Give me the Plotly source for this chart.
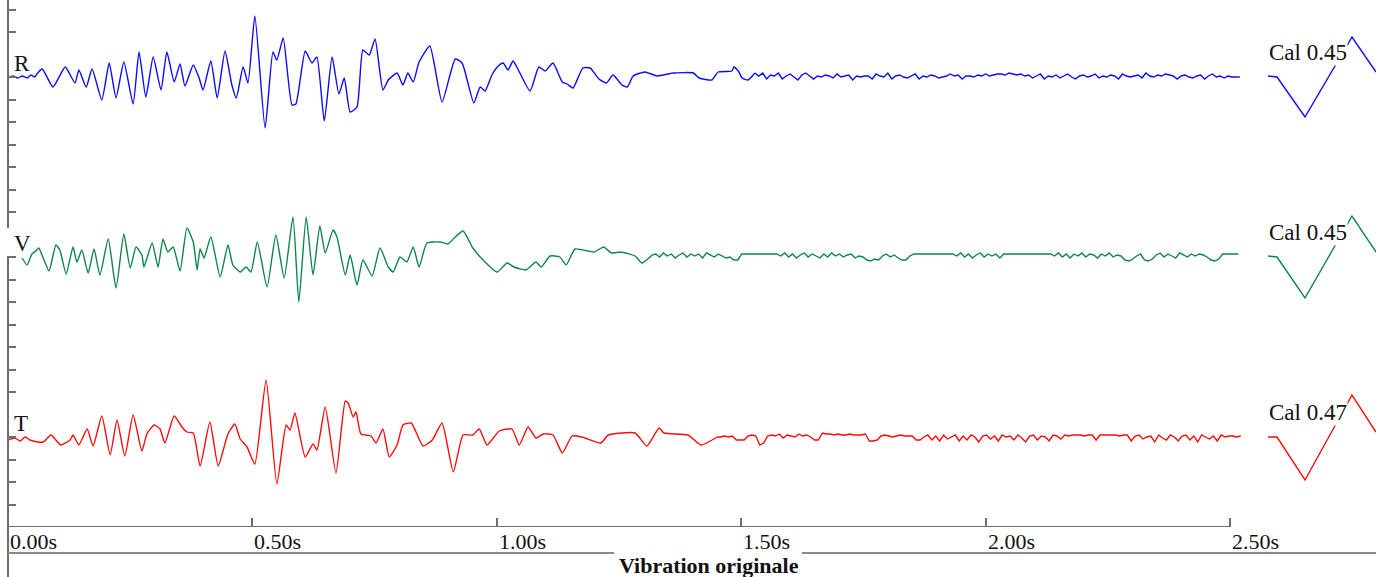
import numpy as np
import plotly.graph_objects as go

# ------------------------------------------------------------------ data
channels = ["R", "V", "T"]
cal_values = [0.45, 0.45, 0.47]
tick_seconds = [0.0, 0.5, 1.0, 1.5, 2.0, 2.5]
chart_title = "Vibration originale"

# R channel: times (s) and amplitudes (counts) of the waveform turning points
r_time = [0.000, 0.010, 0.020, 0.029, 0.039, 0.047, 0.055, 0.059,
          0.070, 0.092, 0.117, 0.137, 0.145, 0.160, 0.172, 0.192, 0.207, 0.221,
          0.237, 0.256, 0.268, 0.282, 0.297, 0.313, 0.325, 0.340, 0.352, 0.362,
          0.379, 0.391, 0.399, 0.415, 0.428, 0.444, 0.458, 0.467, 0.481, 0.491,
          0.505, 0.526, 0.542, 0.550, 0.563, 0.581, 0.589, 0.608, 0.622, 0.632,
          0.647, 0.663, 0.677, 0.688, 0.700, 0.714, 0.726, 0.739, 0.751, 0.767,
          0.778, 0.796, 0.808, 0.818, 0.829, 0.841, 0.863, 0.888, 0.915, 0.929,
          0.953, 0.966, 0.976, 0.990, 1.003, 1.013, 1.023, 1.033, 1.041, 1.068,
          1.086, 1.099, 1.115, 1.134, 1.144, 1.156, 1.176, 1.191, 1.209, 1.224,
          1.238, 1.256, 1.267, 1.279, 1.303, 1.328, 1.361, 1.402, 1.414, 1.440,
          1.453, 1.481, 1.485, 1.494, 1.502, 1.514, 1.528]
r_amp = [-1, 1, -1, 1, -1, 2, 0, 3,
         8, -10, 10, -6, 7, -10, 8, -23, 14, -21,
         15, -27, 25, -20, 20, -13, 25, -5, 13, -9,
         12, -1, -13, 16, -21, 26, -8, -21, 10, -6,
         61, -51, 25, 17, 39, -28, -27, 26, 14, 20,
         -44, 20, -17, -1, -35, -30, 27, 22, 38, -13,
         -3, 4, -8, 4, -5, 15, 31, -25, 18, 14,
         -26, -10, -14, 2, 11, 14, 7, 16, 10, -14,
         10, 6, 14, -5, -7, -11, 9, 9, -2, -6,
         2, -8, -10, 1, 5, 1, 4, 4, -1, -3,
         5, 6, 10, 6, -1, -3, 4]
r_tail_start = 1.536
r_tail = [1, 4, -2, 2, 1, 4, -2, 1, 3, 0, -3, 2, 4, 1, -2, 1, 0, 2, 1, -1,
          3, 0, 1, 2, -3, 1, 0, 1, 1, -2, 3, 1, 0, 4, -2, 1, 2, 0, -1, 1,
          3, -2, 1, 0, 2, 1, -1, 0, 1, 3, 1, 2, -2, 1, 1, 0, 2, 1, 3, 1,
          2, 3, 3, 2, 4, 3, 2, 3, 1, 2, -1, 1, 3, -2, 1, 0, 2, -1, 1, 3,
          0, -2, 1, 2, 0, 1, 3, -1, 1, 0, 2, 1, -2, 3, 1, 0, 1, 2, -1, 4,
          1, 0, 2, 1, 3, 2, 1, -2, 1, 2, 0, -1, 1, 2, -2, 1, 3, 0, 1, -1,
          1, 0, 0, 0]

# V channel
v_time = [0.029, 0.039, 0.049, 0.057, 0.063, 0.072, 0.084, 0.098, 0.106, 0.119,
          0.133, 0.141, 0.151, 0.164, 0.176, 0.188, 0.205, 0.221, 0.237, 0.250,
          0.262, 0.274, 0.278, 0.295, 0.307, 0.317, 0.327, 0.338, 0.352, 0.366,
          0.379, 0.387, 0.393, 0.401, 0.415, 0.434, 0.450, 0.460, 0.475, 0.487,
          0.497, 0.510, 0.530, 0.548, 0.565, 0.583, 0.595, 0.610, 0.624, 0.638,
          0.649, 0.665, 0.673, 0.690, 0.700, 0.714, 0.726, 0.745, 0.761, 0.778,
          0.788, 0.802, 0.816, 0.829, 0.841, 0.857, 0.884, 0.900, 0.913, 0.931,
          0.951, 0.972, 1.001, 1.021, 1.035, 1.060, 1.080, 1.091, 1.109, 1.129,
          1.142, 1.160, 1.199, 1.219, 1.234, 1.254, 1.283, 1.297, 1.318]
v_amp = [-1, -8, 3, 6, 9, -1, -14, 12, 7, -17,
         10, -5, 7, -16, 8, -18, 18, -31, 23, -11,
         10, 2, -10, 14, -10, 18, 5, 10, -14, 29,
         15, -13, 8, -1, 20, -20, 12, -8, -15, -10,
         -15, 15, -30, 22, -21, 40, -45, 40, -18, 31,
         4, 27, 20, -18, 2, -28, -3, -19, 9, -10,
         -15, 0, -5, 10, -10, 14, 15, 13, 19, 26,
         9, -3, -15, -6, -10, -13, -5, -10, 1, 0,
         -8, 8, 5, 10, 4, 5, 1, -6, 2]
v_tail_start = 1.325
v_tail = [3, 0, 4, 1, 3, -1, 2, 4, 0, 3, 1, 3, -1, 4, 2, 0, 3, 1, -1, 0,
          -3, -3, 3, 3, 3, 3, 3, 3, 3, 3, 3, 3, 1, 4, 0, 3, -1, 2, 4, 0,
          3, 1, -1, 3, 0, 4, 1, 3, 0, 2, 3, -1, 1, 0, -3, -4, -2, -3, 1, 3,
          0, 2, -1, -3, -3, 1, 3, 3, 3, 3, 3, 3, 3, 3, 3, 3, 3, 1, 4, 0,
          3, -1, 2, 4, 0, 3, 1, 3, -1, 3, 3, 3, 3, 3, 3, 3, 3, 3, 3, 3,
          3, 3, 1, 4, 0, 3, -1, 3, 1, 4, 0, 3, 2, -1, 3, 1, 4, 0, 2, 1,
          -3, -4, -2, 1, 3, -3, -4, -2, 2, 4, 0, 3, 1, -1, 4, 2, 0, 3, 1, 3,
          2, 0, -3, -4, -2, 3, 3, 3, 3, 3]

# T channel
t_time = [0.000, 0.014, 0.025, 0.035, 0.045,
          0.051, 0.072, 0.088, 0.108, 0.127, 0.133, 0.145, 0.162, 0.174, 0.192,
          0.209, 0.223, 0.239, 0.256, 0.274, 0.284, 0.299, 0.311, 0.321, 0.340,
          0.356, 0.366, 0.379, 0.393, 0.413, 0.430, 0.450, 0.464, 0.475, 0.489,
          0.505, 0.528, 0.550, 0.569, 0.577, 0.587, 0.608, 0.624, 0.632, 0.649,
          0.671, 0.690, 0.696, 0.706, 0.712, 0.722, 0.743, 0.753, 0.767, 0.780,
          0.796, 0.808, 0.825, 0.849, 0.868, 0.888, 0.911, 0.931, 0.951, 0.964,
          0.980, 1.005, 1.031, 1.046, 1.064, 1.080, 1.095, 1.115, 1.134, 1.154,
          1.174, 1.213, 1.228, 1.283, 1.307, 1.332, 1.342, 1.391, 1.418, 1.451]
t_amp = [-3, -1, -4, 0, -3,
         -4, -5, 2, -8, -3, 2, -8, 8, -9, 21,
         -18, 17, -19, 22, -14, 3, 12, 8, -6, 21,
         10, 5, 4, -29, 15, -29, 3, 13, -2, -10,
         -27, 57, -47, 12, 7, 24, -20, -7, -13, 30,
         -36, 36, 34, 20, 25, 3, 1, -6, 8, -20,
         -8, 12, 14, -9, -3, 14, -35, 2, 2, 8,
         -8, 6, 8, -8, 10, -1, 3, 2, -16, 1,
         0, -6, 2, 4, -9, 9, 4, 2, -8, 0]
t_tail_start = 1.458
t_tail = [0, 1, 0, 1, -3, -3, -3, 1, 2, 1, -8, -6, 1, 2, 1, 3, -1, 2, 1, 0,
          3, 1, 2, 0, -3, -3, 4, 3, 3, 2, 3, 2, 2, 3, 2, 2, 2, 3, -4, -4,
          -3, 1, 2, 1, 0, 1, 2, 1, 1, 1, -3, -3, 0, 2, -3, 1, -4, 2, -2, 0,
          2, -4, 1, -3, 2, 0, -5, 1, 2, -2, 1, -4, 2, 0, 1, -3, 2, -1, -5, 1,
          2, -3, 1, 0, -4, 2, 1, -2, 2, 1, 2, 2, 2, 1, 2, 2, -3, 2, 2, 2,
          2, 2, 1, 2, 2, -4, 1, 2, -2, 0, 1, -5, 2, -1, -3, 2, 0, -4, 1, 2,
          -3, 1, -5, 2, 0, -2, 1, -4, 2, 0, 1, 1, 0, 1]

TAIL_DT = 0.008  # sampling step of the quiet tail (s)

# calibration pulses (time in ms, amplitude in counts)
cal_time_ms = [0, 9, 37, 84, 108]
r_cal = [1, 0, -40, 40, 5]
v_cal = [1, 0, -41, 41, 5]
t_cal = [0, 0, -43, 42, 5]

# ------------------------------------------------------------------ layout constants
W, H = 1376, 577
FONT = "Liberation Serif"
AXIS_COL = "#6e6e6e"
COLORS = {"R": "#0a0aff", "V": "#0c8648", "T": "#ff0a0a"}
LINE_W = 1.4
PX_PER_S = 488.8
X0_PX = 8
AXIS_BOTTOM_PX = 527
X_MAX = 2.525
TICK_STEP = 22.5
OFFSETS = {"R": 20 * TICK_STEP, "V": 12 * TICK_STEP, "T": 4 * TICK_STEP}
HIDDEN_TICKS = (5, 13, 21)  # covered by the channel letters


def px_x(px):
    return px / W


def px_y(py):
    return 1 - py / H


series = {
    "R": (r_time, r_amp, r_tail_start, r_tail, r_cal),
    "V": (v_time, v_amp, v_tail_start, v_tail, v_cal),
    "T": (t_time, t_amp, t_tail_start, t_tail, t_cal),
}

fig = go.Figure()
for name in channels:
    tm, amp, t0, tail, cal = series[name]
    off = OFFSETS[name]
    # active part of the record
    fig.add_trace(go.Scatter(x=list(tm), y=[off + v for v in amp], mode="lines",
                             xaxis="x", yaxis="y",
                             line=dict(color=COLORS[name], width=LINE_W,
                                       shape="spline", smoothing=0.5),
                             hoverinfo="skip", showlegend=False))
    # quiet, noisy tail (joined to the last point of the active part)
    tail_x = [tm[-1]] + list(t0 + TAIL_DT * np.arange(len(tail)))
    tail_y = [off + amp[-1]] + [off + v for v in tail]
    fig.add_trace(go.Scatter(x=tail_x, y=tail_y, mode="lines", xaxis="x", yaxis="y",
                             line=dict(color=COLORS[name], width=LINE_W),
                             hoverinfo="skip", showlegend=False))
    # calibration pulse
    fig.add_trace(go.Scatter(x=cal_time_ms, y=[off + v for v in cal],
                             mode="lines", xaxis="x2", yaxis="y",
                             line=dict(color=COLORS[name], width=LINE_W),
                             hoverinfo="skip", showlegend=False))

ytickvals = [k * TICK_STEP for k in range(0, 24) if k not in HIDDEN_TICKS]

shapes = [
    # x axis line (0 .. 2.5 s)
    dict(type="line", xref="x", yref="y", x0=tick_seconds[0], x1=tick_seconds[-1],
         y0=0, y1=0, line=dict(color=AXIS_COL, width=2)),
    # left axis line, interrupted by the V label
    dict(type="line", xref="paper", yref="paper", x0=px_x(X0_PX), x1=px_x(X0_PX),
         y0=px_y(0), y1=px_y(228), line=dict(color=AXIS_COL, width=2)),
    dict(type="line", xref="paper", yref="paper", x0=px_x(X0_PX), x1=px_x(X0_PX),
         y0=px_y(256), y1=px_y(H), line=dict(color=AXIS_COL, width=2)),
    # frame line under the tick labels, broken by the title
    dict(type="line", xref="paper", yref="paper", x0=px_x(X0_PX), x1=px_x(614),
         y0=px_y(553), y1=px_y(553), line=dict(color="#8a8a8a", width=2)),
    dict(type="line", xref="paper", yref="paper", x0=px_x(802), x1=1,
         y0=px_y(553), y1=px_y(553), line=dict(color="#8a8a8a", width=2)),
]

annotations = []
for name, cv in zip(channels, cal_values):
    annotations.append(dict(text=name, xref="paper", yref="y", x=px_x(12),
                            y=OFFSETS[name] + 14, xanchor="left", yanchor="middle",
                            showarrow=False, font=dict(family=FONT, size=23, color="#111")))
    annotations.append(dict(text=f"Cal {cv:.2f}", xref="paper", yref="y", x=px_x(1268),
                            y=OFFSETS[name] + 25, xanchor="left", yanchor="middle",
                            showarrow=False, bgcolor="white", borderpad=0,
                            font=dict(family=FONT, size=23, color="#111")))
for ts in tick_seconds:
    annotations.append(dict(text=f"{ts:.2f}s", xref="x", yref="paper", x=ts,
                            y=px_y(541), xanchor="left", yanchor="middle",
                            showarrow=False, font=dict(family=FONT, size=22, color="#111")))
annotations.append(dict(text=f"<b>{chart_title}</b>", xref="paper", yref="paper",
                        x=px_x(709), y=px_y(565), xanchor="center", yanchor="middle",
                        showarrow=False, font=dict(family=FONT, size=22, color="#111")))

fig.update_layout(
    width=W, height=H,
    margin=dict(l=0, r=0, t=0, b=0),
    paper_bgcolor="white", plot_bgcolor="white",
    showlegend=False,
    xaxis=dict(domain=[px_x(X0_PX), px_x(X0_PX + X_MAX * PX_PER_S)], range=[0, X_MAX],
               showline=False, showgrid=False, zeroline=False, ticks="inside",
               tickvals=tick_seconds, ticklen=9, tickwidth=1.5, tickcolor=AXIS_COL,
               showticklabels=False, anchor="y", fixedrange=True),
    xaxis2=dict(domain=[px_x(1250), 1], range=[-18, 108], visible=False,
                anchor="y", fixedrange=True),
    yaxis=dict(domain=[px_y(AXIS_BOTTOM_PX), 1], range=[0, AXIS_BOTTOM_PX],
               showline=False, showgrid=False, zeroline=False, ticks="inside",
               tickvals=ytickvals, ticklen=8, tickwidth=1.5, tickcolor=AXIS_COL,
               showticklabels=False, anchor="x", fixedrange=True),
    shapes=shapes,
    annotations=annotations,
)

fig.write_html("out.html", config={"displayModeBar": False},
               post_script="document.body.style.margin='0px';"
                           "document.body.style.overflow='hidden';")
